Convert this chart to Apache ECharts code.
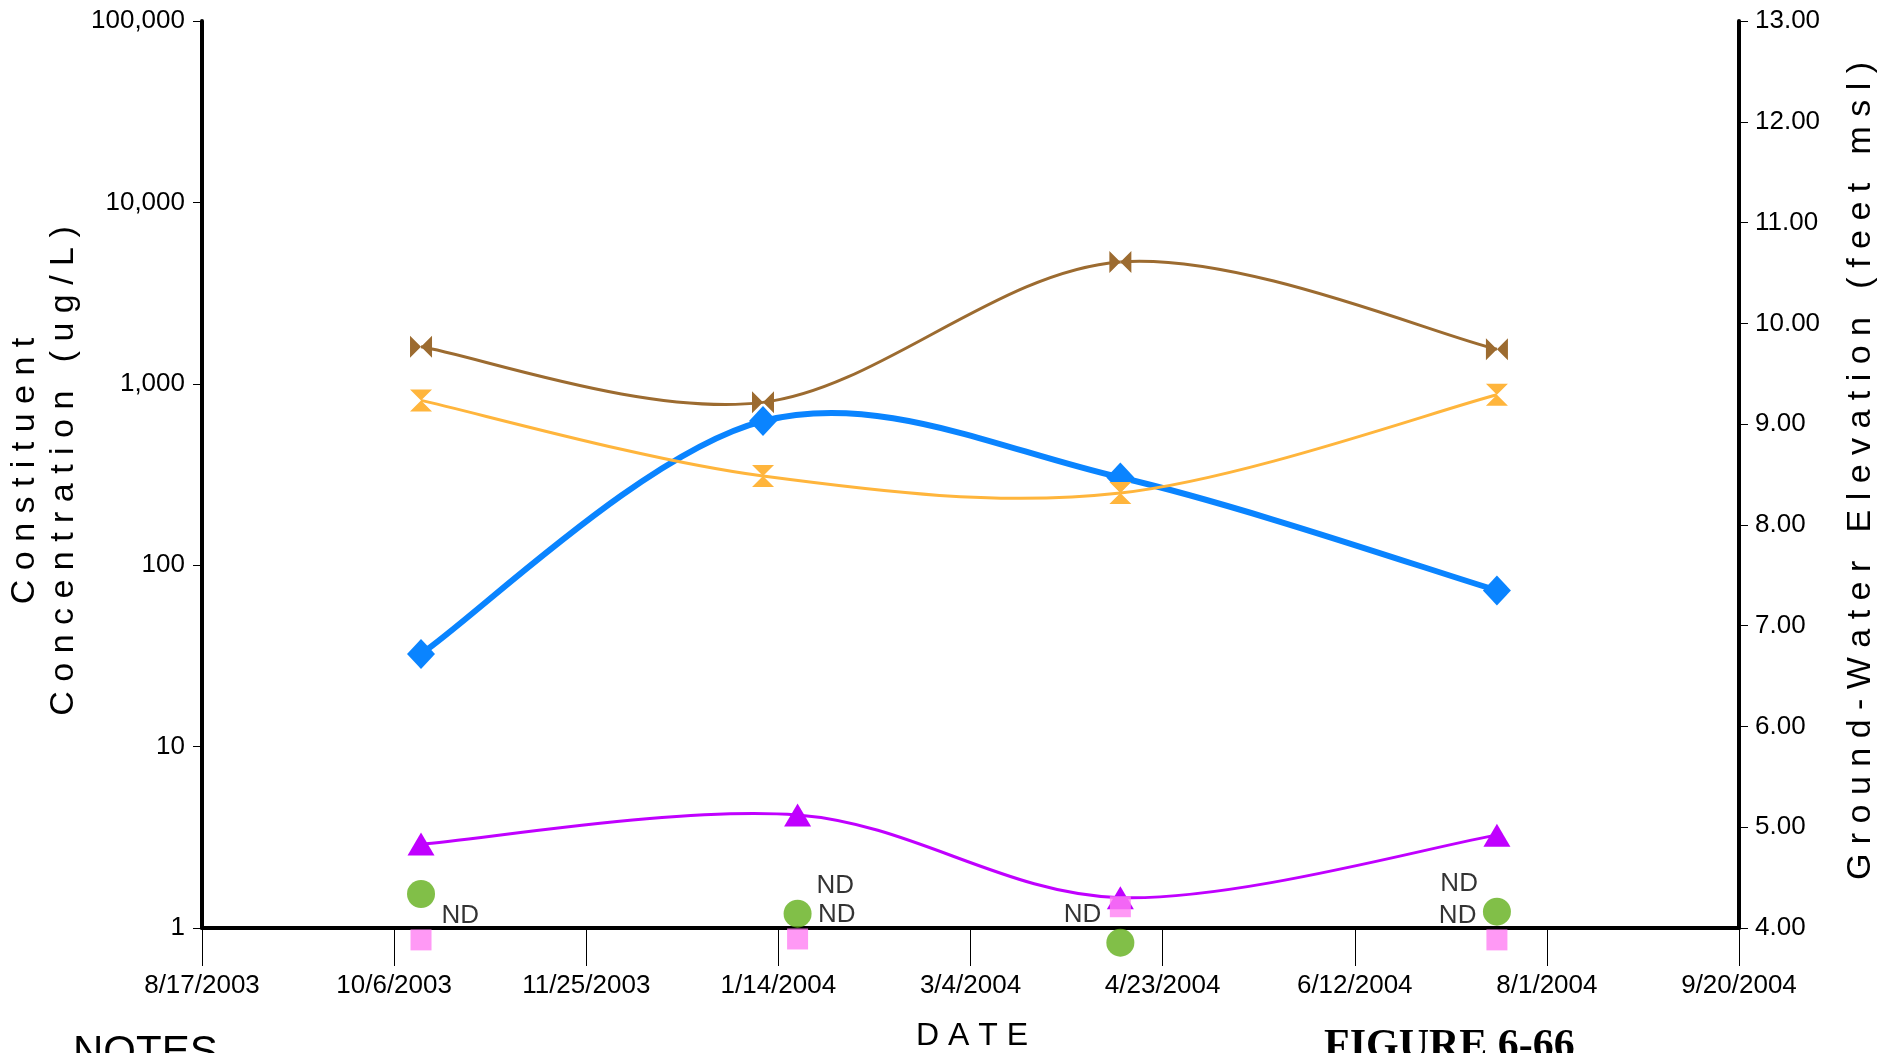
<!DOCTYPE html>
<html>
<head>
<meta charset="utf-8">
<script src="https://cdn.jsdelivr.net/npm/echarts@6/dist/echarts.min.js"></script>
<style>
html,body{margin:0;padding:0;background:#fff;}
#chart{width:1892px;height:1053px;}
</style>
</head>
<body>
<div id="chart"></div>
<script>
// ---- data ----
const axisStart = '2003-08-17';
const xTickLabels = ['8/17/2003','10/6/2003','11/25/2003','1/14/2004','3/4/2004','4/23/2004','6/12/2004','8/1/2004','9/20/2004'];
const leftTicks = [1, 10, 100, 1000, 10000, 100000];

const datesA = ['2003-10-13','2004-01-10','2004-04-12','2004-07-19'];
const datesB = ['2003-10-13','2004-01-19','2004-04-12','2004-07-19'];

const brownValues  = [1600, 790, 4700, 1550];
const orangeValues = [810, 310, 250, 870];
const elevation    = [6.72, 9.03, 8.47, 7.35];
const purpleValues = [2.9, 4.2, 1.47, 3.25];
const greenValues  = [1.54, 1.2, 0.83, 1.23];
const greenND      = [false, true, true, true];
const pinkValues   = [0.86, 0.87, 1.31, 0.86];
const pinkND       = [true, true, false, true];

// ---- helpers ----
const DAY = 86400000;
const FONT = 'Liberation Sans, Arial, sans-serif';
function utc(s){ const p=s.split('-').map(Number); return Date.UTC(p[0],p[1]-1,p[2]); }
function toDays(s){ return Math.round((utc(s) - utc(axisStart))/DAY); }
function pairs(dates, vals){ return dates.map((d,i)=>[toDays(d), vals[i]]); }
function ndItems(dates, vals, nd, dist, dy){
  return dates.map((d,i)=>({
    value:[toDays(d), vals[i]],
    label:{show: nd[i], formatter:'ND', position: i<2 ? 'right' : 'left', distance: dist, offset:[0, dy],
      color:'#000', fontSize:26, fontFamily:FONT}
  }));
}
function spaced(s){ return s.split(' ').map(w=>w.split('').join(' ')).join('   '); }

// smooth (Catmull-Rom) curve through the points, positioned by the axes via api.coord
function curveSeries(name, dates, vals, yIdx, color, width, z){
  const data = pairs(dates, vals);
  return {
    name, type:'custom', yAxisIndex:yIdx, data, z, silent:true, clip:false,
    encode:{x:0, y:1},
    renderItem(params, api){
      const i = params.dataIndex, n = data.length;
      if (i >= n-1) return null;
      const P = k => api.coord(data[Math.max(0, Math.min(n-1, k))]);
      const p0=P(i-1), p1=P(i), p2=P(i+1), p3=P(i+2);
      return {
        type:'bezierCurve',
        shape:{x1:p1[0], y1:p1[1], x2:p2[0], y2:p2[1],
          cpx1:p1[0]+(p2[0]-p0[0])/6, cpy1:p1[1]+(p2[1]-p0[1])/6,
          cpx2:p2[0]-(p3[0]-p1[0])/6, cpy2:p2[1]-(p3[1]-p1[1])/6},
        style:{stroke:color, lineWidth:width, fill:null}
      };
    }
  };
}
function markers(name, dates, vals, yIdx, symbol, size, color, z){
  return {name, type:'scatter', yAxisIndex:yIdx, data:pairs(dates, vals), symbol, symbolSize:size,
    itemStyle:{color, opacity:1}, z, silent:true};
}

const BLUE='#0A84FF', ORANGE='#FFB53C', BROWN='#9C6B30', PURPLE='#C000FF';
const BOWTIE='path://M0,0L10,10L0,20ZM20,0L10,10L20,20Z';
const HOURGLASS='path://M0,0L20,0L10,10ZM0,20L20,20L10,10Z';

const chart = echarts.init(document.getElementById('chart'), null, {renderer:'canvas'});
const option = {
  backgroundColor:'#fff',
  animation:false,
  grid:{left:202, right:153, top:21, bottom:125, containLabel:false},
  xAxis:{
    type:'value', min:0, max:400, interval:50,
    axisLine:{show:true, onZero:false, lineStyle:{color:'#000', width:4}},
    axisTick:{show:true, length:38, lineStyle:{color:'#000', width:1}},
    splitLine:{show:false},
    axisLabel:{margin:45, color:'#000', fontSize:26, fontFamily:FONT,
      formatter:(v)=>xTickLabels[Math.round(v/50)] || ''}
  },
  yAxis:[
    {type:'log', logBase:10, min:leftTicks[0], max:leftTicks[leftTicks.length-1], position:'left',
      axisLine:{show:true, lineStyle:{color:'#000', width:4}},
      axisTick:{show:true, length:9, lineStyle:{color:'#000', width:1}},
      splitLine:{show:false}, minorTick:{show:false},
      axisLabel:{margin:17, color:'#000', fontSize:26, fontFamily:FONT,
        formatter:(v)=>Number(v).toLocaleString('en-US')}
    },
    {type:'value', min:4, max:13, interval:1, position:'right',
      axisLine:{show:true, lineStyle:{color:'#000', width:4}},
      axisTick:{show:true, length:9, lineStyle:{color:'#000', width:1}},
      splitLine:{show:false},
      axisLabel:{margin:16, color:'#000', fontSize:26, fontFamily:FONT,
        formatter:(v)=>Number(v).toFixed(2)}
    }
  ],
  series:[
    curveSeries('Ground-Water Elevation line', datesA, elevation, 1, BLUE, 6, 2),
    markers('Ground-Water Elevation', datesA, elevation, 1, 'diamond', [28,30], BLUE, 3),
    curveSeries('orange line', datesA, orangeValues, 0, ORANGE, 3, 4),
    markers('orange', datesA, orangeValues, 0, HOURGLASS, [22,22], ORANGE, 5),
    curveSeries('brown line', datesA, brownValues, 0, BROWN, 3, 4),
    markers('brown', datesA, brownValues, 0, BOWTIE, [22,22], BROWN, 5),
    curveSeries('purple line', datesB, purpleValues, 0, PURPLE, 3, 6),
    markers('purple', datesB, purpleValues, 0, 'triangle', [27,23], PURPLE, 7),
    {name:'green', type:'scatter', clip:false, data:ndItems(datesB, greenValues, greenND, 5, -28),
      symbol:'circle', symbolSize:28, itemStyle:{color:'#62AF1A'}, z:8, silent:true},
    {name:'pink', type:'scatter', clip:false, data:ndItems(datesB, pinkValues, pinkND, 10, -24),
      symbol:'rect', symbolSize:21, itemStyle:{color:'#FF7FF3'}, z:9, silent:true}
  ],
  graphic:[
    {type:'text', x:25, y:471, rotation:Math.PI/2, style:{text:spaced('Constituent'), font:'34px '+FONT, fill:'#000', textAlign:'center', textVerticalAlign:'middle'}},
    {type:'text', x:64, y:471, rotation:Math.PI/2, style:{text:spaced('Concentration (ug/L)'), font:'34px '+FONT, fill:'#000', textAlign:'center', textVerticalAlign:'middle'}},
    {type:'text', x:1861, y:471, rotation:Math.PI/2, style:{text:spaced('Ground-Water Elevation (feet msl)'), font:'34px '+FONT, fill:'#000', textAlign:'center', textVerticalAlign:'middle'}},
    {type:'text', x:972, y:1036, style:{text:'D A T E', font:'32px '+FONT, fill:'#000', textAlign:'center', textVerticalAlign:'middle'}},
    {type:'text', x:73, y:1053, style:{text:'NOTES', font:'42px '+FONT, fill:'#000', textAlign:'left', textVerticalAlign:'middle'}},
    {type:'text', x:1324, y:1047, style:{text:'FIGURE 6-66', font:'bold 42px "Liberation Serif", "Times New Roman", serif', fill:'#000', textAlign:'left', textVerticalAlign:'middle'}}
  ]
};
chart.setOption(option);
</script>
</body>
</html>
